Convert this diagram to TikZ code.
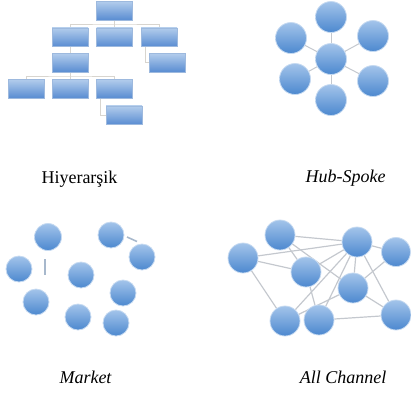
\documentclass[tikz,border=0pt]{standalone}
\usepackage{fontspec}
\setmainfont{Liberation Serif}
\usetikzlibrary{backgrounds}
\definecolor{boxtop}{HTML}{B3CDEC}
\definecolor{boxbot}{HTML}{5A8DD2}
\definecolor{boxrim}{HTML}{9DB9DE}
\definecolor{baltop}{HTML}{A3C4EA}
\definecolor{balbot}{HTML}{4C88CF}
\definecolor{balrim}{HTML}{C6DAF1}
\definecolor{conn}{HTML}{D8D5CF}
\definecolor{edge}{HTML}{C4C8CE}
\definecolor{frag}{HTML}{A7B8CC}
\tikzset{
  orgbox/.style={rectangle, minimum width=36pt, minimum height=18.5pt, inner sep=0pt,
    top color=boxtop, bottom color=boxbot, draw=boxrim, line width=0.5pt},
  ball/.style={circle, minimum size=#1, inner sep=0pt,
    top color=baltop, bottom color=balbot, draw=balrim, line width=0.8pt},
  ball/.default=30pt,
  orgline/.style={draw=conn, line width=1pt},
  spoke/.style={draw=edge, line width=1pt},
  link/.style={draw=edge, line width=1.2pt},
  fragline/.style={draw=frag, line width=1.6pt},
  caption/.style={font=\fontsize{18}{20}\selectfont, anchor=base, inner sep=0pt},
}
\begin{document}
\begin{tikzpicture}[x=1pt,y=-1pt]
\useasboundingbox (0,0) rectangle (411,394);

% ---------- Hierarchy ----------
\node[orgbox] (t)  at (114.5,10.5) {};
\node[orgbox] (b1) at (70,37) {};
\node[orgbox] (b2) at (114.5,37) {};
\node[orgbox] (b3) at (159,37) {};
\node[orgbox] (b4) at (70,62.5) {};
\node[orgbox] (b5) at (167.5,62.5) {};
\node[orgbox] (b6) at (26,88.5) {};
\node[orgbox] (b7) at (70,88.5) {};
\node[orgbox] (b8) at (114.5,88.5) {};
\node[orgbox] (b9) at (124,115) {};
\coordinate (h1) at (114.5,24);
\coordinate (h2) at (70,76);
\begin{scope}[on background layer]
\draw[orgline] (t.south) -- (h1);
\draw[orgline] (b1.north) |- (h1) -| (b3.north);
\draw[orgline] (b2.north) -- (h1);
\draw[orgline] (b1.south) -- (b4.north);
\draw[orgline] ([xshift=-14pt]b3.south) |- (b5.west);
\draw[orgline] (b4.south) -- (h2);
\draw[orgline] (b6.north) |- (h2) -| (b8.north);
\draw[orgline] (b7.north) -- (h2);
\draw[orgline] ([xshift=-14.5pt]b8.south) |- (b9.west);
\end{scope}
\node[caption] (lh) at (79.5,183) {Hiyerarşik};

% ---------- Hub-Spoke ----------
\node[ball=31pt] (hc) at (331,59) {};
\node[ball=31pt] (h1n) at (331,17) {};
\node[ball=31pt] (h2n) at (291,38) {};
\node[ball=31pt] (h3n) at (373,36) {};
\node[ball=31pt] (h4n) at (295,79) {};
\node[ball=31pt] (h5n) at (373,81) {};
\node[ball=31pt] (h6n) at (331,100) {};
\begin{scope}[on background layer]
\foreach \n in {h1n,h2n,h3n,h4n,h5n,h6n} \draw[spoke] (hc) -- (\n);
\end{scope}
\node[caption] (ls) at (345.5,182) {\itshape Hub-Spoke};

% ---------- Market ----------
\node[ball=27pt] (m1) at (48,237) {};
\node[ball=26pt] (m2) at (111,235) {};
\node[ball=26pt] (m3) at (142,257) {};
\node[ball=26pt] (m4) at (19,269) {};
\node[ball=26pt] (m5) at (81,275) {};
\node[ball=26pt] (m6) at (123,293) {};
\node[ball=26pt] (m7) at (36,302) {};
\node[ball=26pt] (m8) at (78,317) {};
\node[ball=26pt] (m9) at (116,323) {};
\coordinate (f1a) at (45,259);
\coordinate (f1b) at (45,275);
\coordinate (f2a) at (127,237);
\coordinate (f2b) at (137,241.5);
\draw[fragline] (f1a) -- (f1b);
\draw[fragline] (f2a) -- (f2b);
\node[caption] (lm) at (85.5,383) {\itshape Market};

% ---------- All Channel ----------
\node[ball] (a1) at (280,235) {};
\node[ball] (a2) at (243,258) {};
\node[ball] (a3) at (306,272) {};
\node[ball] (a4) at (357,242) {};
\node[ball=29pt] (a5) at (396,252) {};
\node[ball] (a6) at (353,288) {};
\node[ball] (a7) at (285,321) {};
\node[ball] (a8) at (319,320) {};
\node[ball] (a9) at (396,315) {};
\begin{scope}[on background layer]
\foreach \u/\v in {a1/a4,a2/a4,a2/a3,a2/a7,a1/a3,a1/a6,a4/a5,a4/a3,a4/a7,a4/a8,a4/a6,a4/a9,a5/a6,a6/a9,a6/a7,a3/a8,a8/a9}
  \draw[link] (\u) -- (\v);
\end{scope}
\node[caption] (la) at (343,383) {\itshape All Channel};
\end{tikzpicture}
\end{document}
